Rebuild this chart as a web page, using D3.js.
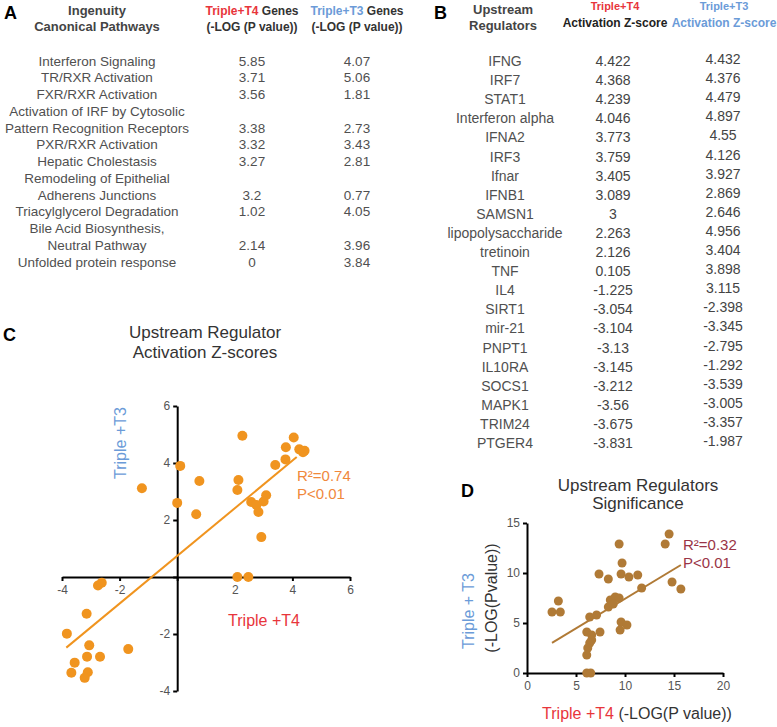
<!DOCTYPE html>
<html>
<head>
<meta charset="utf-8">
<script src="https://cdn.jsdelivr.net/npm/d3@7"></script>
<style>
  body { margin: 0; background: #fff; }
  text { font-family: "Liberation Sans", Arial, sans-serif; }
</style>
</head>
<body>
<svg id="fig" width="777" height="727"></svg>
<script>
// ---- panel A: canonical pathways ----
const pathways = ["Interferon Signaling", "TR/RXR Activation", "FXR/RXR Activation",
    "Activation of IRF by Cytosolic\nPattern Recognition Receptors", "PXR/RXR Activation",
    "Hepatic Cholestasis", "Remodeling of Epithelial\nAdherens Junctions",
    "Triacylglycerol Degradation", "Bile Acid Biosynthesis,\nNeutral Pathway",
    "Unfolded protein response"];
const pathT4 = [5.85, 3.71, 3.56, 3.38, 3.32, 3.27, 3.2, 1.02, 2.14, 0];
const pathT3 = [4.07, 5.06, 1.81, 2.73, 3.43, 2.81, 0.77, 4.05, 3.96, 3.84];

// ---- panel B: upstream regulators ----
const regulators = ["IFNG", "IRF7", "STAT1", "Interferon alpha", "IFNA2", "IRF3", "Ifnar", "IFNB1",
    "SAMSN1", "lipopolysaccharide", "tretinoin", "TNF", "IL4", "SIRT1", "mir-21", "PNPT1",
    "IL10RA", "SOCS1", "MAPK1", "TRIM24", "PTGER4"];
const zT4 = [4.422, 4.368, 4.239, 4.046, 3.773, 3.759, 3.405, 3.089, 3, 2.263, 2.126, 0.105,
    -1.225, -3.054, -3.104, -3.13, -3.145, -3.212, -3.56, -3.675, -3.831];
const zT3 = [4.432, 4.376, 4.479, 4.897, 4.55, 4.126, 3.927, 2.869, 2.646, 4.956, 3.404, 3.898,
    3.115, -2.398, -3.345, -2.795, -1.292, -3.539, -3.005, -3.357, -1.987];

// ---- panel C: other regulators plotted but not listed in B ----
const extraZT4 = [0.77, 2.09, 0.0, 0.66, 2.57, 2.75, 2.82, 2.92, 2.09, 2.47, -2.75, -2.62, -1.7, -2.68];
const extraZT3 = [3.37, 3.05, 2.6, 2.2, 2.63, 2.53, 2.28, 1.4, 0, 0, -0.3, -0.2, -2.53, -2.8];
const fitC = { slope: 0.836, intercept: 0.74, from: -3.85, to: 4.15, r2: "0.74", p: "P<0.01" };

// ---- panel D: significance ----
const sigT4 = [14.5, 14.1, 9.4, 9.7, 7.35, 8.3, 9.6, 10.4, 11.3, 11.7, 14.8, 15.7, 3.2, 2.55, 3.4,
    8.5, 9.0, 9.4, 8.3, 8.8, 6.4, 7.1, 9.6, 10.2, 9.5, 6.1, 6.6, 7.45, 6.6, 6.4, 6.2, 6.1, 6.1, 6.5];
const sigT3 = [13.9, 12.9, 12.9, 11.0, 9.9, 9.4, 9.9, 9.6, 9.8, 8.5, 9.1, 8.4, 7.2, 6.1, 6.1,
    7.3, 7.6, 7.5, 6.6, 6.9, 5.6, 5.8, 5.1, 4.8, 4.3, 4.1, 3.8, 4.1, 3.3, 3.0, 2.5, 1.8, 0, 0];
const fitD = { slope: 0.593, intercept: 1.49, from: 2.55, to: 15.7, r2: "0.32", p: "P<0.01" };

const RED = '#e8353b', BLUE = '#6b9bd8', GREY = '#505050';
const svg = d3.select('#fig');

function panelLabel(t, x, y) {
    svg.append('text').attr('x', x).attr('y', y).text(t)
        .style('font-size', '18px').style('font-weight', 'bold').attr('fill', '#000');
}

// ================= A =================
panelLabel('A', 4, 19);
const gA = svg.append('g');
gA.selectAll('.hdr')
    .data(['Ingenuity', 'Canonical Pathways'])
    .join('text')
    .attr('x', 97).attr('y', (d, i) => 15 + i * 16)
    .attr('text-anchor', 'middle')
    .style('font-size', '13px').style('font-weight', 'bold').attr('fill', '#444')
    .text(d => d);

function colHeader(g, x, label, color) {
    let t = g.append('text').attr('x', x).attr('y', 15).attr('text-anchor', 'middle')
        .style('font-size', '12px').style('font-weight', 'bold');
    t.append('tspan').attr('fill', color).text(label);
    t.append('tspan').attr('fill', '#333').text(' Genes');
    g.append('text').attr('x', x).attr('y', 31).attr('text-anchor', 'middle')
        .style('font-size', '12px').style('font-weight', 'bold').attr('fill', '#333')
        .text('(-LOG (P value))');
}
colHeader(gA, 252, 'Triple+T4', RED);
colHeader(gA, 357, 'Triple+T3', BLUE);

let lineY = d3.scaleLinear().domain([0, 12]).range([61, 262]);
let line = 0;
pathways.forEach((p, i) => {
    p.split('\n').forEach(part => {
        gA.append('text').attr('x', 97).attr('y', lineY(line) + 4.5)
            .attr('text-anchor', 'middle').style('font-size', '13.5px').attr('fill', GREY)
            .text(part);
        line++;
    });
    let y = lineY(line - 1) + 4.5;
    gA.append('text').attr('x', 252).attr('y', y).attr('text-anchor', 'middle')
        .style('font-size', '13.5px').attr('fill', GREY).text(String(pathT4[i]));
    gA.append('text').attr('x', 357).attr('y', y).attr('text-anchor', 'middle')
        .style('font-size', '13.5px').attr('fill', GREY).text(String(pathT3[i]));
});

// ================= B =================
panelLabel('B', 434, 19);
const gB = svg.append('g');
gB.selectAll('.hdr')
    .data(['Upstream', 'Regulators'])
    .join('text')
    .attr('x', 503).attr('y', (d, i) => 14 + i * 16)
    .attr('text-anchor', 'middle')
    .style('font-size', '13px').style('font-weight', 'bold').attr('fill', '#444')
    .text(d => d);
[[615, 'Triple+T4', RED, '#222'], [724, 'Triple+T3', BLUE, BLUE]].forEach(([x, t, c1, c2]) => {
    gB.append('text').attr('x', x).attr('y', 10).attr('text-anchor', 'middle')
        .style('font-size', '11px').style('font-weight', 'bold').attr('fill', c1).text(t);
    gB.append('text').attr('x', x).attr('y', 27).attr('text-anchor', 'middle')
        .style('font-size', '12px').style('font-weight', 'bold').attr('fill', c2).text('Activation Z-score');
});

let rowY = d3.scaleLinear().domain([0, regulators.length - 1]).range([61, 443]);
regulators.forEach((r, i) => {
    let y = rowY(i) + 5;
    gB.append('text').attr('x', 505).attr('y', y).attr('text-anchor', 'middle')
        .style('font-size', '14px').attr('fill', GREY).text(r);
    gB.append('text').attr('x', 613).attr('y', y).attr('text-anchor', 'middle')
        .style('font-size', '14px').attr('fill', '#444').text(String(zT4[i]));
    gB.append('text').attr('x', 723).attr('y', y - 2).attr('text-anchor', 'middle')
        .style('font-size', '14px').attr('fill', '#444').text(String(zT3[i]));
});

// ================= shared scatter helpers =================
function styleAxis(g) {
    g.select('.domain').attr('stroke', '#000').attr('stroke-width', 2);
    g.selectAll('.tick line').attr('stroke', '#000').attr('stroke-width', 2);
    g.selectAll('.tick text').attr('fill', '#555').style('font-size', '12px')
        .style('font-family', '"Liberation Sans", Arial, sans-serif');
}

// ================= C =================
panelLabel('C', 3, 341);
const xC = d3.scaleLinear().domain([-4, 6]).range([62, 350]);
const yC = d3.scaleLinear().domain([-4, 6]).range([691, 406]);
const gC = svg.append('g');

gC.selectAll('.title')
    .data(['Upstream Regulator', 'Activation Z-scores'])
    .join('text')
    .attr('x', 205).attr('y', (d, i) => 338 + i * 20)
    .attr('text-anchor', 'middle').style('font-size', '17px').attr('fill', '#333')
    .text(d => d);

const noZero = d => d === 0 ? '' : d;
gC.append('g').attr('transform', `translate(0,${yC(0)})`)
    .call(d3.axisBottom(xC).tickValues([-4, -2, 0, 2, 4, 6]).tickSize(4).tickSizeOuter(0)
        .tickPadding(4).tickFormat(noZero))
    .call(styleAxis);
gC.append('g').attr('transform', `translate(${xC(0)},0)`)
    .call(d3.axisLeft(yC).tickValues([-4, -2, 0, 2, 4, 6]).tickSize(4).tickSizeOuter(0)
        .tickPadding(3).tickFormat(noZero))
    .call(styleAxis);

const ptsC = zT4.map((v, i) => [v, zT3[i]])
    .concat(extraZT4.map((v, i) => [v, extraZT3[i]]));

gC.append('line')
    .attr('x1', xC(fitC.from)).attr('y1', yC(fitC.intercept + fitC.slope * fitC.from))
    .attr('x2', xC(fitC.to)).attr('y2', yC(fitC.intercept + fitC.slope * fitC.to))
    .attr('stroke', '#f0941f').attr('stroke-width', 2);

gC.selectAll('.dot')
    .data(ptsC)
    .join('circle')
    .attr('class', 'dot')
    .attr('cx', d => xC(d[0])).attr('cy', d => yC(d[1])).attr('r', 5)
    .attr('fill', '#f0941f');

gC.append('text').attr('transform', `translate(126,443) rotate(-90)`)
    .attr('text-anchor', 'middle').style('font-size', '16px').attr('fill', BLUE).text('Triple +T3');
gC.append('text').attr('x', 264).attr('y', 626)
    .attr('text-anchor', 'middle').style('font-size', '16px').attr('fill', RED).text('Triple +T4');
gC.append('text').attr('x', 297).attr('y', 481).style('font-size', '15px').attr('fill', '#f0883c')
    .text('R²=' + fitC.r2);
gC.append('text').attr('x', 297).attr('y', 499).style('font-size', '15px').attr('fill', '#f0883c')
    .text(fitC.p);

// ================= D =================
panelLabel('D', 461, 497);
const xD = d3.scaleLinear().domain([0, 20]).range([527, 723]);
const yD = d3.scaleLinear().domain([0, 15]).range([673, 523]);
const gD = svg.append('g');

gD.selectAll('.title')
    .data(['Upstream Regulators', 'Significance'])
    .join('text')
    .attr('x', 638).attr('y', (d, i) => 491 + i * 18)
    .attr('text-anchor', 'middle').style('font-size', '17px').attr('fill', '#333')
    .text(d => d);

gD.append('g').attr('transform', `translate(0,${yD(0)})`)
    .call(d3.axisBottom(xD).tickValues([0, 5, 10, 15, 20]).tickSize(4).tickSizeOuter(0).tickPadding(4))
    .call(styleAxis);
gD.append('g').attr('transform', `translate(${xD(0)},0)`)
    .call(d3.axisLeft(yD).tickValues([0, 5, 10, 15]).tickSize(4).tickSizeOuter(0).tickPadding(3))
    .call(styleAxis);

gD.append('line')
    .attr('x1', xD(fitD.from)).attr('y1', yD(fitD.intercept + fitD.slope * fitD.from))
    .attr('x2', xD(fitD.to)).attr('y2', yD(fitD.intercept + fitD.slope * fitD.to))
    .attr('stroke', '#b07a36').attr('stroke-width', 2);

gD.selectAll('.dot')
    .data(sigT4.map((v, i) => [v, sigT3[i]]))
    .join('circle')
    .attr('class', 'dot')
    .attr('cx', d => xD(d[0])).attr('cy', d => yD(d[1])).attr('r', 4.5)
    .attr('fill', '#b07a36');

gD.append('text').attr('transform', `translate(474,611) rotate(-90)`)
    .attr('text-anchor', 'middle').style('font-size', '16px').attr('fill', BLUE).text('Triple + T3');
gD.append('text').attr('transform', `translate(497,598) rotate(-90)`)
    .attr('text-anchor', 'middle').style('font-size', '16px').attr('fill', '#333').text('(-LOG(Pvalue))');
let xl = gD.append('text').attr('x', 637).attr('y', 719).attr('text-anchor', 'middle')
    .style('font-size', '16px');
xl.append('tspan').attr('fill', RED).text('Triple +T4');
xl.append('tspan').attr('fill', '#333').text(' (-LOG(P value))');
gD.append('text').attr('x', 683).attr('y', 550).style('font-size', '15px').attr('fill', '#9a3446')
    .text('R²=' + fitD.r2);
gD.append('text').attr('x', 683).attr('y', 568).style('font-size', '15px').attr('fill', '#9a3446')
    .text(fitD.p);
</script>
</body>
</html>
